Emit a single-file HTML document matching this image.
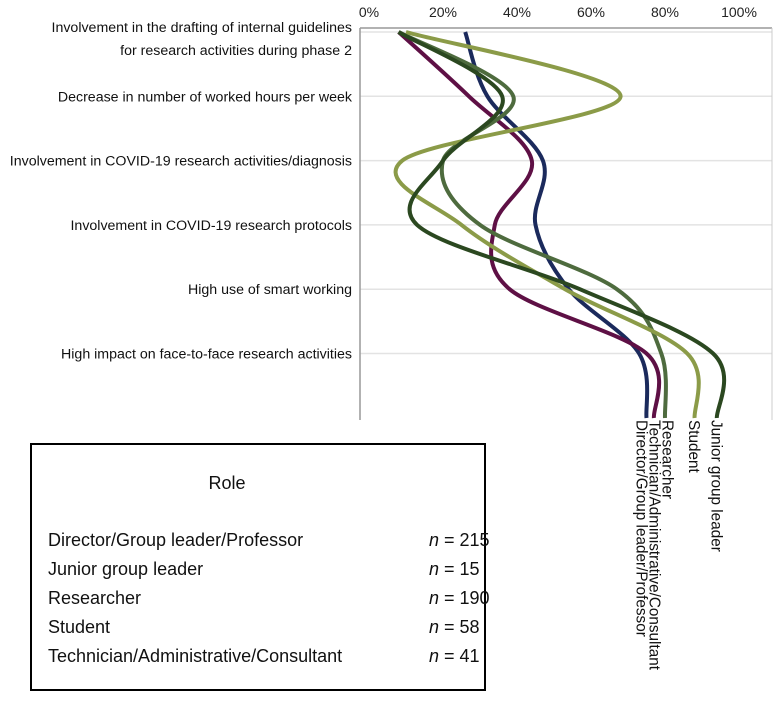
<!DOCTYPE html>
<html><head><meta charset="utf-8"><style>
body{margin:0;background:#fff;width:774px;height:725px;overflow:hidden;font-family:"Liberation Sans",sans-serif;}
svg{position:absolute;left:0;top:0}
.legend{position:absolute;left:30px;top:443px;width:452px;height:244px;border:2px solid #000;font-size:18px;color:#111}
.legend .t{position:absolute;left:0;width:390px;text-align:center;top:28px}
.row{position:absolute;left:16px;width:440px;white-space:nowrap}
.row .n{position:absolute;left:381px;white-space:nowrap}
</style></head><body>
<svg id="chart" width="774" height="725"></svg>
<div class="legend">
<div class="t">Role</div>
<div class="row" style="top:85px">Director/Group leader/Professor<span class="n"><i>n</i> = 215</span></div>
<div class="row" style="top:114px">Junior group leader<span class="n"><i>n</i> = 15</span></div>
<div class="row" style="top:143px">Researcher<span class="n"><i>n</i> = 190</span></div>
<div class="row" style="top:172px">Student<span class="n"><i>n</i> = 58</span></div>
<div class="row" style="top:201px">Technician/Administrative/Consultant<span class="n"><i>n</i> = 41</span></div>
</div>
<script>
const categories=["Involvement in the drafting of internal guidelines|for research activities during phase 2","Decrease in number of worked hours per week","Involvement in COVID-19 research activities/diagnosis","Involvement in COVID-19 research protocols","High use of smart working","High impact on face-to-face research activities",""];
const seriesNames=["Director/Group leader/Professor","Technician/Administrative/Consultant","Researcher","Student","Junior group leader"];
const director=[26,32,47,45,54,73,75];
const technician=[8,27,44,34,38,75,77];
const researcher=[8,39,20,30,67,79,80];
const student=[10,68,9,25,53,86,88];
const junior=[8,36,20,13,57,93,94];
const ticks=[0,20,40,60,80,100];
const colors=["#1b2a5c","#5e1045","#4e6b3e","#8b9b48","#2b4820"];
const svg=document.getElementById('chart');const NS="http://www.w3.org/2000/svg";
const X=v=>369+v*3.7, Y=i=>32+i*64.3;
function mk(t,a){const e=document.createElementNS(NS,t);for(const k in a)e.setAttribute(k,a[k]);svg.appendChild(e);return e;}
for(let i=0;i<6;i++){const g=mk('line',{x1:360,x2:772,y1:Y(i),y2:Y(i),stroke:'#e3e3e3','stroke-width':1.5});

}
let a=mk('line',{x1:360,x2:772,y1:28,y2:28,stroke:'#999','stroke-width':1.5});


a=mk('line',{x1:360,x2:360,y1:28,y2:420,stroke:'#999','stroke-width':1.5});


a=mk('line',{x1:772,x2:772,y1:28,y2:420,stroke:'#ccc','stroke-width':1});


ticks.forEach(t=>{const e=mk('text',{x:X(t),y:17,'text-anchor':'middle','font-size':14,fill:'#222'});e.textContent=t+'%';

});
categories.forEach((c,i)=>{if(!c)return;const parts=c.split('|');parts.forEach((p,j)=>{
let y=parts.length>1?(j==0?Y(i)-0:Y(i)+23):Y(i)+5;
const e=mk('text',{x:352,y:y,'text-anchor':'end','font-size':14.2,fill:'#111'});e.textContent=p;

});});
const all=[director,technician,researcher,student,junior];
const ends=all.map(d=>X(d[d.length-1]));
let lab=ends.map((x,i)=>({x,i})).sort((p,q)=>p.x-q.x);
for(let it=0;it<50;it++){for(let j=1;j<lab.length;j++){const gap=lab[j].x-lab[j-1].x;if(gap<13){const d=(13-gap)/2;lab[j].x+=d;lab[j-1].x-=d;}}}
const labX={};lab.forEach(o=>labX[o.i]=o.x);
all.forEach((d,s)=>{
const pts=d.map((v,i)=>[X(v),Y(i)]);pts[6][1]=418;
let p=`M${pts[0][0]},${pts[0][1]}`;
for(let i=0;i<pts.length-1;i++){const p0=pts[Math.max(0,i-1)],p1=pts[i],p2=pts[i+1],p3=pts[Math.min(pts.length-1,i+2)];const k=6;
p+=` C${p1[0]+(p2[0]-p0[0])/k},${p1[1]+(p2[1]-p0[1])/k} ${p2[0]-(p3[0]-p1[0])/k},${p2[1]-(p3[1]-p1[1])/k} ${p2[0]},${p2[1]}`;}
const e=mk('path',{d:p,fill:'none',stroke:colors[s],'stroke-width':4,'stroke-linejoin':'round'});


const tx=mk('text',{x:0,y:0,'font-size':15.3,fill:'#111',transform:`translate(${labX[s]-5.5},420) rotate(90)`});tx.textContent=seriesNames[s];


});
</script>
</body></html>
